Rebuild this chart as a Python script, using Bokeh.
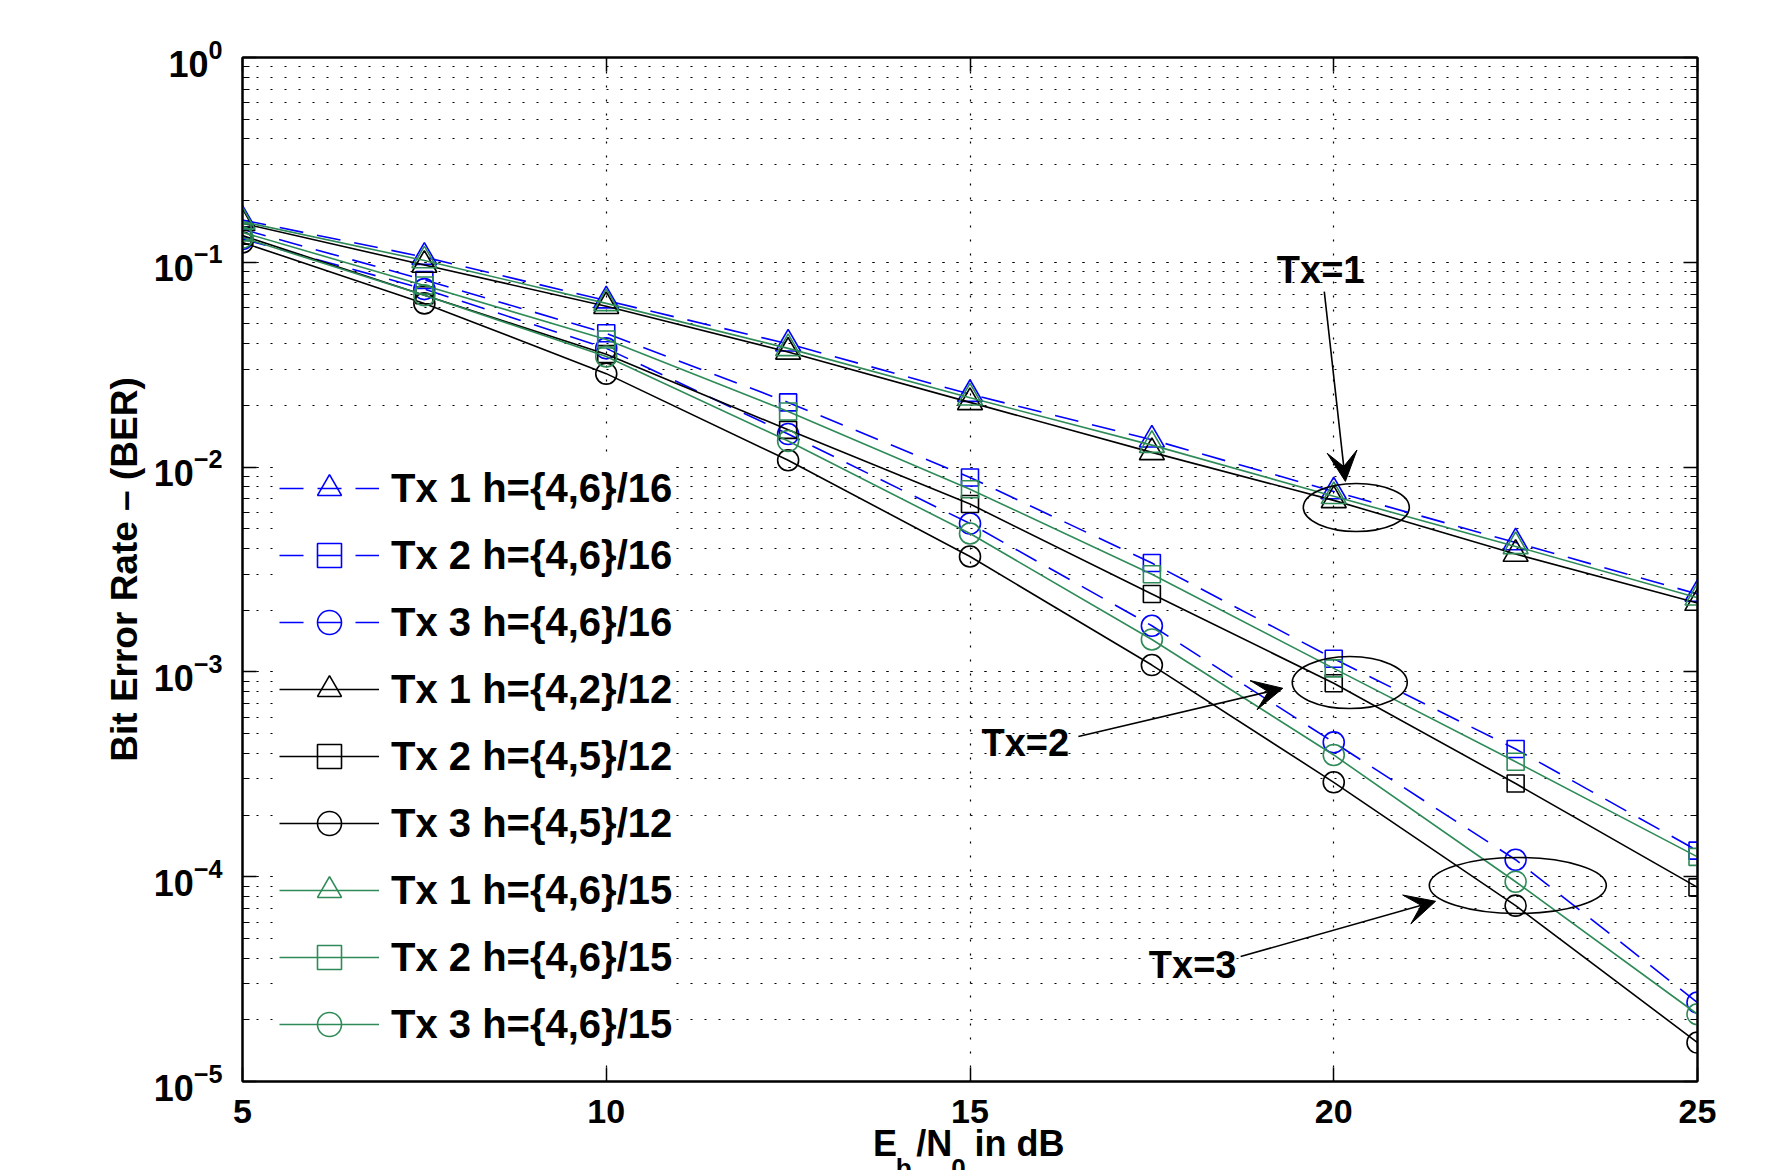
from bokeh.plotting import figure
from bokeh.models import (Legend, LegendItem, LinearAxis, LogAxis, FixedTicker, LogTicker,
                          Arrow, VeeHead, CustomJSTickFormatter)
from bokeh.core.properties import value
from bokeh.embed import file_html
from bokeh.resources import INLINE

# ---------------- data ----------------
ebn0 = [5, 7.5, 10, 12.5, 15, 17.5, 20, 22.5, 25]

tx1_h46_16 = [0.161, 0.106, 0.065, 0.040, 0.0227, 0.0136, 0.0076, 0.00428, 0.0024]
tx2_h46_16 = [0.145, 0.082, 0.045, 0.0207, 0.0089, 0.0034, 0.00116, 0.00042, 0.000134]
tx3_h46_16 = [0.130, 0.074, 0.038, 0.0145, 0.0053, 0.00168, 0.000453, 0.000121, 0.0000243]
tx1_h42_12 = [0.155, 0.097, 0.061, 0.0365, 0.0207, 0.0118, 0.00688, 0.00376, 0.00217]
tx2_h45_12 = [0.135, 0.069, 0.0356, 0.0152, 0.0066, 0.0024, 0.00088, 0.000285, 0.0000887]
tx3_h45_12 = [0.125, 0.063, 0.0286, 0.0108, 0.00366, 0.00108, 0.000289, 0.0000722, 0.0000155]
tx1_h46_15 = [0.158, 0.102, 0.063, 0.038, 0.0218, 0.0128, 0.0072, 0.0041, 0.0023]
tx2_h46_15 = [0.140, 0.077, 0.042, 0.0187, 0.0078, 0.0030, 0.00104, 0.000364, 0.000125]
tx3_h46_15 = [0.132, 0.069, 0.0347, 0.0134, 0.00474, 0.00144, 0.000393, 0.0000945, 0.0000213]

series_values = [tx1_h46_16, tx2_h46_16, tx3_h46_16,
                 tx1_h42_12, tx2_h45_12, tx3_h45_12,
                 tx1_h46_15, tx2_h46_15, tx3_h46_15]
series_labels = ["Tx 1 h={4,6}/16", "Tx 2 h={4,6}/16", "Tx 3 h={4,6}/16",
                 "Tx 1 h={4,2}/12", "Tx 2 h={4,5}/12", "Tx 3 h={4,5}/12",
                 "Tx 1 h={4,6}/15", "Tx 2 h={4,6}/15", "Tx 3 h={4,6}/15"]

x_ticks = [5, 10, 15, 20, 25]

# x-axis title "E_b/N_0 in dB": main pieces and subscript pieces (x positions in dB)
xlabel_main = ["E", "/N", "in dB"]
xlabel_main_x = [13.83, 14.51, 15.68]
xlabel_sub = ["b", "0"]
xlabel_sub_x = [14.09, 14.84]

# annotations (data coordinates)
ann_text = ["Tx=1", "Tx=2", "Tx=3"]
ann_text_x = [19.82, 15.76, 18.06]
ann_text_y = [10 ** -1.04, 10 ** -3.345, 10 ** -4.43]
arrow_x0 = [19.87, 16.49, 18.72]
arrow_y0 = [10 ** -1.143, 10 ** -3.315, 10 ** -4.39]
arrow_x1 = [20.16, 19.30, 21.40]
arrow_y1 = [10 ** -2.07, 10 ** -3.08, 10 ** -4.12]
ell_x = [20.31, 20.22, 22.53]
ell_y = [10 ** -2.197, 10 ** -3.052, 10 ** -4.043]
ell_w = [106, 115, 177]
ell_h = [48, 52, 56]

# ---------------- styles ----------------
GREEN = "#2e8b57"
FONT = "Liberation Sans"
colors = ["blue", "blue", "blue", "black", "black", "black", GREEN, GREEN, GREEN]
dashes = ["24 14"] * 3 + ["solid"] * 6
markers = ["triangle", "square", "circle"] * 3
msize = {"triangle": 25, "square": 17, "circle": 21}

p = figure(x_range=(5, 25), y_range=(1e-5, 1), y_axis_type="log",
           frame_width=1455, frame_height=1024,
           min_border_left=242, min_border_right=92, min_border_top=57, min_border_bottom=0,
           output_backend="svg", toolbar_location=None, background_fill_color="white")

p.outline_line_color = "black"
p.outline_line_width = 2

# grids
p.xgrid.ticker = FixedTicker(ticks=x_ticks)
p.xgrid.grid_line_color = "black"
p.xgrid.grid_line_dash = "2 12"
p.xgrid.grid_line_width = 1.2
p.ygrid.grid_line_color = "black"
p.ygrid.grid_line_dash = "2 12"
p.ygrid.grid_line_width = 1.2
p.ygrid.minor_grid_line_color = "black"
p.ygrid.minor_grid_line_dash = "2 12"
p.ygrid.minor_grid_line_width = 1.2

def style_axis(ax, size="36px", labels=True):
    ax.axis_line_width = 2
    ax.axis_line_color = "black"
    ax.major_tick_in = 14
    ax.major_tick_out = 0
    ax.minor_tick_in = 7
    ax.minor_tick_out = 0
    ax.major_tick_line_width = 1.5
    ax.minor_tick_line_width = 1.2
    ax.major_label_text_font = FONT
    ax.major_label_text_font_style = "bold"
    ax.major_label_text_font_size = size if labels else "10px"
    ax.major_label_text_color = "black" if labels else None

# bottom x axis
xa = p.xaxis[0]
xa.ticker = FixedTicker(ticks=x_ticks, minor_ticks=[])
style_axis(xa, size="34px")
xa.major_label_standoff = 18

# left y axis
ya = p.yaxis[0]
ya.ticker = LogTicker(num_minor_ticks=10)
style_axis(ya, size="36px")
ya.major_label_standoff = 20
ya.axis_label = "Bit Error Rate \u2013 (BER)"
ya.axis_label_text_font = FONT
ya.axis_label_text_font_style = "bold"
ya.axis_label_text_font_size = "37px"
ya.axis_label_text_color = "black"
ya.axis_label_standoff = 6

# top and right axes (box)
top = LinearAxis(ticker=FixedTicker(ticks=x_ticks, minor_ticks=[]))
style_axis(top, labels=False)
p.add_layout(top, "above")
right = LogAxis(ticker=LogTicker(num_minor_ticks=10))
style_axis(right, labels=False)
p.add_layout(right, "right")

# x-axis title pieces as label-only axes below the main axis
def text_axis(ticks, labels, size, standoff):
    ax = LinearAxis(ticker=FixedTicker(ticks=ticks, minor_ticks=[]),
                    formatter=CustomJSTickFormatter(args=dict(labels=labels),
                                                    code="return labels[index];"))
    ax.axis_line_color = None
    ax.major_tick_line_color = None
    ax.minor_tick_line_color = None
    ax.major_tick_in = 0
    ax.major_tick_out = 0
    ax.major_label_text_font = FONT
    ax.major_label_text_font_style = "bold"
    ax.major_label_text_font_size = size
    ax.major_label_text_color = "black"
    ax.major_label_standoff = standoff
    return ax

p.add_layout(text_axis(xlabel_main_x, xlabel_main, "36px", -3), "below")
p.add_layout(text_axis(xlabel_sub_x, xlabel_sub, "26px", -14), "below")

# series
items = []
for vals, lab, col, dsh, mk in zip(series_values, series_labels, colors, dashes, markers):
    lr = p.line(ebn0, vals, line_color=col, line_dash=dsh, line_width=1.6)
    sr = p.scatter(ebn0, vals, marker=mk, size=msize[mk], line_color=col,
                   fill_color=None, line_width=1.6)
    items.append(LegendItem(label=lab, renderers=[lr, sr]))

legend = Legend(items=items, location=(37, 27),
                label_text_font=FONT, label_text_font_style="bold",
                label_text_font_size="40px", label_text_color="black",
                glyph_width=100, glyph_height=60, label_height=60,
                label_standoff=12, spacing=7, padding=8,
                border_line_color=None, background_fill_color="white",
                background_fill_alpha=1.0)
p.add_layout(legend, "center")

# ellipses
p.ellipse(x=ell_x, y=ell_y, width=ell_w, height=ell_h, width_units="screen",
          height_units="screen", fill_color=None, line_color="black", line_width=1.6)

# arrows
for x0, y0, x1, y1 in zip(arrow_x0, arrow_y0, arrow_x1, arrow_y1):
    p.add_layout(Arrow(end=VeeHead(size=30, fill_color="black", line_color="black"),
                       x_start=x0, y_start=y0, x_end=x1, y_end=y1,
                       line_color="black", line_width=1.6))

# annotation texts
p.text(x=ann_text_x, y=ann_text_y, text=ann_text, text_align="center",
       text_baseline="middle", text_font=value(FONT), text_font_style="bold",
       text_font_size="38px", text_color="black")

open("out.html", "w").write(file_html(p, INLINE))
